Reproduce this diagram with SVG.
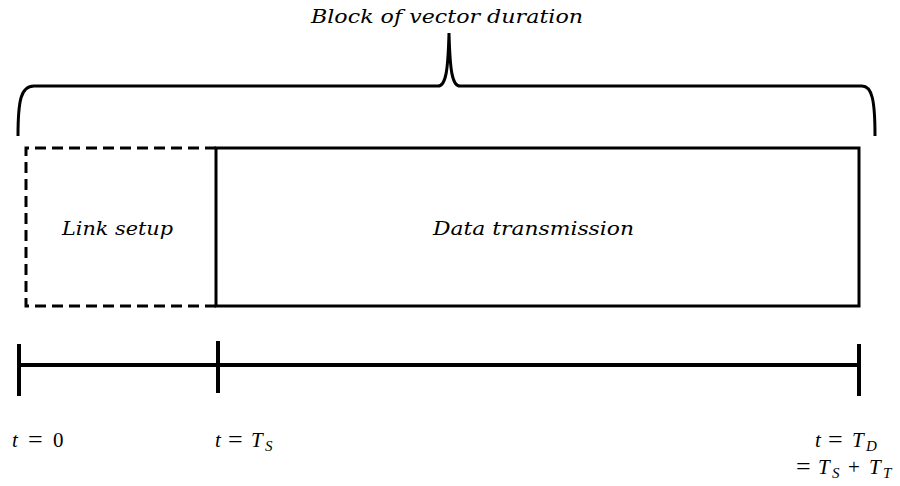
<svg xmlns="http://www.w3.org/2000/svg" width="900" height="486" viewBox="0 0 900 486">
<style>
.ln{fill:none;stroke:#000;stroke-width:3}
.ax{fill:none;stroke:#000;stroke-width:4}
.lbl{font-family:"DejaVu Serif","Liberation Serif",serif;font-style:italic;font-size:19px;fill:#000}
.m{font-family:"Liberation Serif","DejaVu Serif",serif;font-size:21px;fill:#000}
.i{font-style:italic}
.sub{font-style:italic;font-size:15px}
.eq{font-size:26px}
</style>
<rect width="900" height="486" fill="#fff"/>
<g id="brace">
<path class="ln" d="M18,136 C18,100 21,86 34,86 L438,86 C446,86 448,70 449,33 C450,70 452,86 460,86 L862,86 C872,86 875,100 875,136"/>
<text class="lbl" x="311" y="23" textLength="272" lengthAdjust="spacingAndGlyphs">Block of vector duration</text>
</g>
<g id="link-setup">
<path class="ln" d="M216,148 L26,148 L26,306 L216,306" stroke-dasharray="11 6"/>
<text class="lbl" x="62" y="235" textLength="111" lengthAdjust="spacingAndGlyphs">Link setup</text>
</g>
<g id="data-transmission">
<rect class="ln" x="216" y="148" width="643" height="158"/>
<text class="lbl" x="433" y="235" textLength="201" lengthAdjust="spacingAndGlyphs">Data transmission</text>
</g>
<g id="timeline">
<line class="ax" x1="19" y1="365" x2="859" y2="365"/>
<line class="ax" x1="19" y1="344" x2="19" y2="396"/>
<line class="ax" x1="218" y1="341" x2="218" y2="393"/>
<line class="ax" x1="859" y1="344" x2="859" y2="396"/>
</g>
<g id="t0">
<text class="m" y="447"><tspan class="i" x="12">t</tspan><tspan class="eq" x="28" y="448">=</tspan><tspan x="53" y="447">0</tspan></text>
</g>
<g id="tS">
<text class="m" y="447"><tspan class="i" x="215">t</tspan><tspan class="eq" x="228" y="448">=</tspan><tspan class="i" x="251" y="447">T</tspan><tspan class="sub" x="265" y="451">S</tspan></text>
</g>
<g id="tD">
<text class="m" y="447"><tspan class="i" x="815">t</tspan><tspan class="eq" x="828" y="448">=</tspan><tspan class="i" x="852" y="447">T</tspan><tspan class="sub" x="866" y="451">D</tspan></text>
<text class="m" y="474"><tspan class="eq" x="796" y="475">=</tspan><tspan class="i" x="818" y="474">T</tspan><tspan class="sub" x="832" y="478">S</tspan><tspan x="848" y="474">+</tspan><tspan class="i" x="869">T</tspan><tspan class="sub" x="883" y="478">T</tspan></text>
</g>
</svg>
